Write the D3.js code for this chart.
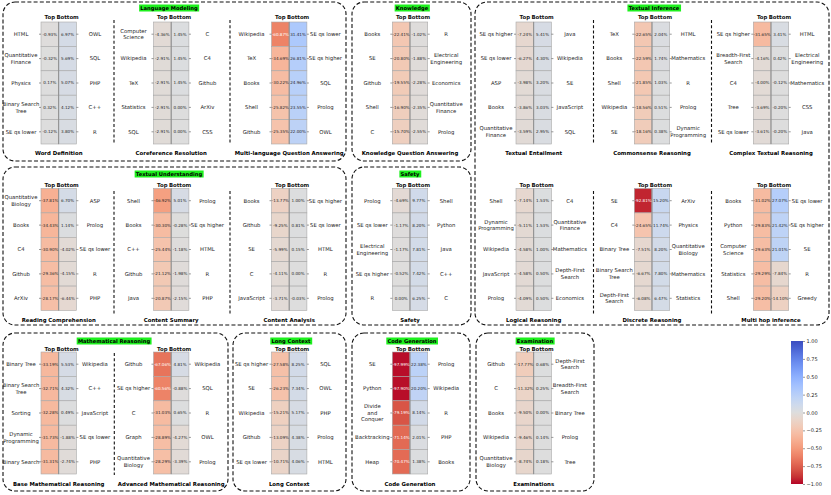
<!DOCTYPE html>
<html>
<head>
<meta charset="utf-8">
<script src="https://cdn.jsdelivr.net/npm/d3@7"></script>
<style>
  body { margin: 0; background: #fff; }
  svg { display: block; font-family: "DejaVu Sans", sans-serif; }
</style>
</head>
<body>
<svg id="chart" width="831" height="495"></svg>
<script>
// ---- data ----
const columnNames = ["Top", "Bottom"];

const panelTitles = [
  "Word Definition", "Coreference Resolution", "Multi-language Question Answering",
  "Knowledge Question Answering", "Textual Entailment", "Commonsense Reasoning",
  "Complex Textual Reasoning", "Reading Comprehension", "Content Summary",
  "Content Analysis", "Safety", "Logical Reasoning", "Discrete Reasoning",
  "Multi hop inference", "Base Mathematical Reasoning", "Advanced Mathematical Reasoning",
  "Long Context", "Code Generation", "Examinations"
];

const topLabels = [
  ["HTML", "Quantitative\nFinance", "Physics", "Binary Search\nTree", "SE qs lower"],
  ["Computer\nScience", "Wikipedia", "TeX", "Statistics", "SQL"],
  ["Wikipedia", "TeX", "Books", "Shell", "Github"],
  ["Books", "SE", "Github", "Shell", "C"],
  ["SE qs higher", "SE qs lower", "ASP", "Books", "Quantitative\nFinance"],
  ["TeX", "Books", "Shell", "Wikipedia", "SE"],
  ["SE qs higher", "Breadth-First\nSearch", "C4", "Tree", "SE qs lower"],
  ["Quantitative\nBiology", "Books", "C4", "Github", "ArXiv"],
  ["Shell", "Books", "C++", "Github", "Java"],
  ["Books", "Github", "SE", "C", "JavaScript"],
  ["Prolog", "SE qs lower", "Electrical\nEngineering", "SE qs higher", "R"],
  ["Shell", "Dynamic\nProgramming", "Wikipedia", "JavaScript", "Prolog"],
  ["SE", "C4", "Binary Tree", "Binary Search\nTree", "Depth-First\nSearch"],
  ["Books", "Python", "Computer\nScience", "Statistics", "Shell"],
  ["Binary Tree", "Binary Search\nTree", "Sorting", "Dynamic\nProgramming", "Binary Search"],
  ["Github", "SE qs higher", "C", "Graph", "Quantitative\nBiology"],
  ["SE qs higher", "SE", "Wikipedia", "Github", "SE qs lower"],
  ["SE", "Python", "Divide\nand\nConquer", "Backtracking", "Heap"],
  ["Github", "C", "Books", "Wikipedia", "Quantitative\nBiology"]
];

const topValues = [
  [-0.93, -0.32, 0.17, 0.32, -0.12],
  [-4.36, -2.91, -2.91, -2.91, -2.91],
  [-60.87, -34.69, -30.22, -25.82, -25.35],
  [-22.41, -20.80, -19.55, -16.90, -15.70],
  [-7.24, -6.27, -3.98, -3.86, -3.59],
  [-22.65, -22.59, -21.85, -18.56, -18.16],
  [-31.65, -4.16, -4.00, -3.69, -3.61],
  [-37.81, -34.43, -30.90, -29.36, -28.17],
  [-46.92, -30.30, -25.44, -21.12, -20.87],
  [-13.77, -9.25, -5.99, -4.11, -3.71],
  [-4.69, -1.17, -1.17, -0.52, 0.00],
  [-7.14, -5.11, -4.58, -4.58, -4.09],
  [-92.81, -24.65, -7.51, -6.67, -6.08],
  [-31.02, -29.83, -29.63, -29.29, -29.20],
  [-33.19, -32.71, -32.28, -31.73, -31.31],
  [-67.06, -60.56, -31.03, -28.89, -28.29],
  [-27.58, -26.23, -15.21, -13.09, -10.71],
  [-97.99, -97.90, -79.19, -71.14, -70.47],
  [-17.77, -11.32, -9.50, -9.46, -8.74]
];

const bottomLabels = [
  ["OWL", "SQL", "PHP", "C++", "R"],
  ["C", "C4", "Github", "ArXiv", "CSS"],
  ["SE qs lower", "SE qs higher", "SQL", "Prolog", "OWL"],
  ["R", "Electrical\nEngineering", "Economics", "Quantitative\nFinance", "Prolog"],
  ["Java", "Wikipedia", "SE", "JavaScript", "SQL"],
  ["HTML", "Mathematics", "R", "Prolog", "Dynamic\nProgramming"],
  ["HTML", "Electrical\nEngineering", "Mathematics", "CSS", "Java"],
  ["ASP", "Prolog", "SE qs lower", "R", "PHP"],
  ["Prolog", "SE qs higher", "HTML", "R", "PHP"],
  ["SE qs higher", "SE qs lower", "HTML", "R", "Prolog"],
  ["Shell", "Python", "Java", "C++", "C"],
  ["C4", "Quantitative\nFinance", "Mathematics", "Depth-First\nSearch", "Economics"],
  ["ArXiv", "Physics", "Quantitative\nBiology", "Mathematics", "Statistics"],
  ["SE qs lower", "SE qs higher", "SE", "R", "Greedy"],
  ["Wikipedia", "C++", "JavaScript", "SE qs lower", "PHP"],
  ["Wikipedia", "SQL", "R", "OWL", "Prolog"],
  ["SQL", "OWL", "PHP", "Prolog", "HTML"],
  ["Prolog", "Wikipedia", "R", "PHP", "Books"],
  ["Depth-First\nSearch", "Breadth-First\nSearch", "Binary Tree", "Prolog", "Tree"]
];

const bottomValues = [
  [6.97, 5.69, 5.07, 4.12, 3.80],
  [1.45, 1.45, 1.45, 0.00, 0.00],
  [31.41, 26.81, 24.96, 23.55, 22.00],
  [-1.02, -1.88, -2.28, -2.35, -2.55],
  [5.41, 4.30, 3.20, 3.03, 2.95],
  [2.04, 1.74, 1.03, 0.51, 0.38],
  [3.41, 0.42, -0.12, -0.20, -0.20],
  [6.70, 1.14, -4.02, -4.15, -6.44],
  [5.01, -0.28, -1.18, -1.98, -2.15],
  [1.00, 0.81, 0.15, 0.00, -0.03],
  [9.77, 8.20, 7.81, 7.42, 6.25],
  [1.53, 1.53, 1.00, 0.50, 0.50],
  [15.20, 11.74, 8.20, 7.80, 6.47],
  [27.07, 21.42, 21.01, -7.84, -14.10],
  [5.53, 4.32, 0.49, -1.88, -2.74],
  [4.81, -0.88, 0.65, -4.27, -3.39],
  [8.25, 7.34, 5.17, 4.38, 4.06],
  [22.38, 20.20, 8.14, 2.01, 1.38],
  [0.68, 0.25, 0.00, 0.14, 0.18]
];

const groupTitles = [
  "Language Modeling", "Knowledge", "Textual Inference", "Textual Understanding",
  "Safety", "Mathematical Reasoning", "Long Context", "Code Generation", "Examination"
];

const colorbarTicks = [-1, -0.75, -0.5, -0.25, 0, 0.25, 0.5, 0.75, 1];

// ---- layout ----
const panelRow = [0, 0, 0, 0, 0, 0, 0, 1, 1, 1, 1, 1, 1, 1, 2, 2, 2, 2, 2];
const panelCol = [0, 1, 2, 3, 4, 5, 6, 0, 1, 2, 3, 4, 5, 6, 0, 1, 2, 3, 4];
const colLeft = [41, 153.5, 271.5, 392.3, 516, 634.3, 753.3];
const rowTop = [22, 188.5, 352];
const headerY = [17, 184.5, 348.5];
const subTitleY = [153.5, 320.5, 484.5];
const cellW = 17.7, mapH = 122;

const groupBoxes = [
  { x: 3, y: 2, w: 343, h: 159, tx: 169, ty: 8 },
  { x: 352, y: 2, w: 119, h: 159, tx: 412, ty: 8 },
  { x: 475, y: 2, w: 354, h: 323, tx: 654, ty: 8 },
  { x: 3, y: 167, w: 343, h: 158, tx: 169, ty: 174 },
  { x: 352, y: 167, w: 119, h: 158, tx: 410, ty: 174 },
  { x: 3, y: 333, w: 225, h: 158, tx: 114, ty: 341 },
  { x: 233, y: 333, w: 113, h: 158, tx: 291, ty: 341 },
  { x: 352, y: 333, w: 118, h: 158, tx: 412, ty: 341 },
  { x: 476, y: 333, w: 118, h: 158, tx: 535, ty: 341 }
];

const separators = [
  { x: 114, y1: 20, y2: 144 }, { x: 230, y1: 20, y2: 144 },
  { x: 593.5, y1: 20, y2: 144 }, { x: 711.5, y1: 20, y2: 144 },
  { x: 114, y1: 191, y2: 314 }, { x: 230, y1: 191, y2: 314 },
  { x: 593.5, y1: 191, y2: 314 }, { x: 711.5, y1: 191, y2: 314 },
  { x: 114.3, y1: 353, y2: 475 }
];

// coolwarm, reversed so that negative is red and positive is blue
const coolwarm = [
  [59, 76, 192], [77, 104, 215], [98, 130, 234], [119, 154, 247], [141, 176, 254],
  [163, 194, 255], [184, 208, 249], [204, 217, 238], [221, 221, 221], [236, 211, 197],
  [245, 196, 173], [247, 177, 148], [244, 154, 123], [236, 127, 99], [222, 96, 77],
  [203, 62, 56], [180, 4, 38]
];
const color = d3.scaleLinear()
  .domain(coolwarm.map((c, i) => 1 - 2 * i / (coolwarm.length - 1)))
  .range(coolwarm.map(c => `rgb(${c[0]},${c[1]},${c[2]})`))
  .clamp(true);

function textColor(c) {
  const rgb = d3.rgb(c);
  const lin = v => { v /= 255; return v <= 0.03928 ? v / 12.92 : Math.pow((v + 0.055) / 1.055, 2.4); };
  const L = 0.2126 * lin(rgb.r) + 0.7152 * lin(rgb.g) + 0.0722 * lin(rgb.b);
  return L > 0.408 ? "#262626" : "#ffffff";
}

const svg = d3.select("#chart");

// multi-line centered label
function addLabel(g, txt, x, y, size) {
  const lines = txt.split("\n");
  const lh = size * 1.25;
  const t = g.append("text")
    .attr("x", x).attr("y", y)
    .attr("text-anchor", "middle")
    .attr("font-size", size)
    .attr("fill", "#222");
  lines.forEach((line, i) => {
    t.append("tspan")
      .attr("x", x)
      .attr("dy", i === 0 ? (0.35 - (lines.length - 1) * 0.5 * 1.25) + "em" : "1.25em")
      .text(line);
  });
}

// group boxes
groupBoxes.forEach((b, i) => {
  svg.append("rect")
    .attr("x", b.x).attr("y", b.y)
    .attr("width", b.w).attr("height", b.h)
    .attr("rx", 12).attr("ry", 12)
    .attr("fill", "none")
    .attr("stroke", "#111")
    .attr("stroke-width", 1.1)
    .attr("stroke-dasharray", "4,2.2");
  const t = svg.append("text")
    .attr("x", b.tx).attr("y", b.ty)
    .attr("dy", "0.35em")
    .attr("text-anchor", "middle")
    .attr("font-size", 5.2)
    .attr("font-weight", "bold")
    .text(groupTitles[i]);
  const bb = t.node().getBBox();
  svg.insert("rect", () => t.node())
    .attr("x", bb.x - 1.2).attr("y", b.ty - 3.5)
    .attr("width", bb.width + 2.4).attr("height", 7)
    .attr("fill", "#1ef01e");
});

separators.forEach(s => {
  svg.append("line")
    .attr("x1", s.x).attr("x2", s.x)
    .attr("y1", s.y1).attr("y2", s.y2)
    .attr("stroke", "#111")
    .attr("stroke-width", 1.1)
    .attr("stroke-dasharray", "3,2.2");
});

// heatmap panels
panelTitles.forEach((title, p) => {
  const x0 = colLeft[panelCol[p]];
  const y0 = rowTop[panelRow[p]];
  const r = panelRow[p];
  const x = d3.scaleBand().domain(columnNames).range([x0, x0 + 2 * cellW]);
  const y = d3.scaleBand().domain(d3.range(5)).range([y0, y0 + mapH]);

  const cells = [];
  for (let i = 0; i < 5; i++) {
    cells.push({ col: "Top", row: i, v: topValues[p][i] });
    cells.push({ col: "Bottom", row: i, v: bottomValues[p][i] });
  }

  const g = svg.append("g");

  g.selectAll("rect.cell")
    .data(cells)
    .join("rect")
    .attr("class", "cell")
    .attr("x", d => x(d.col))
    .attr("y", d => y(d.row))
    .attr("width", x.bandwidth())
    .attr("height", y.bandwidth())
    .attr("fill", d => color(d.v / 100))
    .attr("stroke", "#a8a8a8")
    .attr("stroke-width", 0.6);

  // darker middle line
  g.append("line")
    .attr("x1", x("Bottom")).attr("x2", x("Bottom"))
    .attr("y1", y0).attr("y2", y0 + mapH)
    .attr("stroke", "#8a8a8a")
    .attr("stroke-width", 0.9);

  g.selectAll("text.val")
    .data(cells)
    .join("text")
    .attr("class", "val")
    .attr("x", d => x(d.col) + x.bandwidth() / 2)
    .attr("y", d => y(d.row) + y.bandwidth() / 2)
    .attr("dy", "0.35em")
    .attr("text-anchor", "middle")
    .attr("font-size", 4.1)
    .attr("fill", d => textColor(color(d.v / 100)))
    .text(d => d.v.toFixed(2) + "%");

  // tick marks on both sides
  const yl = g.append("g").attr("transform", `translate(${x0},0)`)
    .call(d3.axisLeft(y).tickSize(2).tickFormat(""));
  const yr = g.append("g").attr("transform", `translate(${x0 + 2 * cellW},0)`)
    .call(d3.axisRight(y).tickSize(2).tickFormat(""));
  [yl, yr].forEach(a => {
    a.select(".domain").remove();
    a.selectAll("line").attr("stroke", "#333").attr("stroke-width", 0.5);
  });

  topLabels[p].forEach((lab, i) => addLabel(g, lab, x0 - 20, y(i) + y.bandwidth() / 2, 5.3));
  bottomLabels[p].forEach((lab, i) => addLabel(g, lab, x0 + 2 * cellW + 18.5, y(i) + y.bandwidth() / 2, 5.3));

  // column header
  const xa = g.append("g").attr("transform", `translate(0,${headerY[r] + 2})`)
    .call(d3.axisTop(x).tickSize(0).tickPadding(0));
  xa.select(".domain").remove();
  xa.selectAll("text")
    .attr("font-family", "DejaVu Sans, sans-serif")
    .attr("font-size", 5.4)
    .attr("font-weight", "bold")
    .attr("fill", "#111");

  g.append("text")
    .attr("x", x0 + cellW)
    .attr("y", subTitleY[r])
    .attr("dy", "0.35em")
    .attr("text-anchor", "middle")
    .attr("font-size", 5.4)
    .attr("font-weight", "bold")
    .text(title);
});

// colorbar
const cbX = 791, cbW = 12, cbTop = 341, cbBottom = 484;
const cbScale = d3.scaleLinear().domain([-1, 1]).range([cbBottom, cbTop]);
const defs = svg.append("defs");
const grad = defs.append("linearGradient")
  .attr("id", "cbgrad")
  .attr("x1", 0).attr("y1", 1).attr("x2", 0).attr("y2", 0);
d3.range(0, 1.0001, 0.05).forEach(t => {
  grad.append("stop")
    .attr("offset", t)
    .attr("stop-color", color(-1 + 2 * t));
});
svg.append("rect")
  .attr("x", cbX).attr("y", cbTop)
  .attr("width", cbW).attr("height", cbBottom - cbTop)
  .attr("fill", "url(#cbgrad)");
const cbAxis = svg.append("g")
  .attr("transform", `translate(${cbX + cbW},0)`)
  .call(d3.axisRight(cbScale).tickValues(colorbarTicks).tickSize(2).tickPadding(1.5).tickFormat(d3.format(".2f")));
cbAxis.select(".domain").remove();
cbAxis.selectAll("line").attr("stroke", "#333").attr("stroke-width", 0.5);
cbAxis.selectAll("text")
  .attr("font-family", "DejaVu Sans, sans-serif")
  .attr("font-size", 5)
  .attr("fill", "#222");
</script>
</body>
</html>
